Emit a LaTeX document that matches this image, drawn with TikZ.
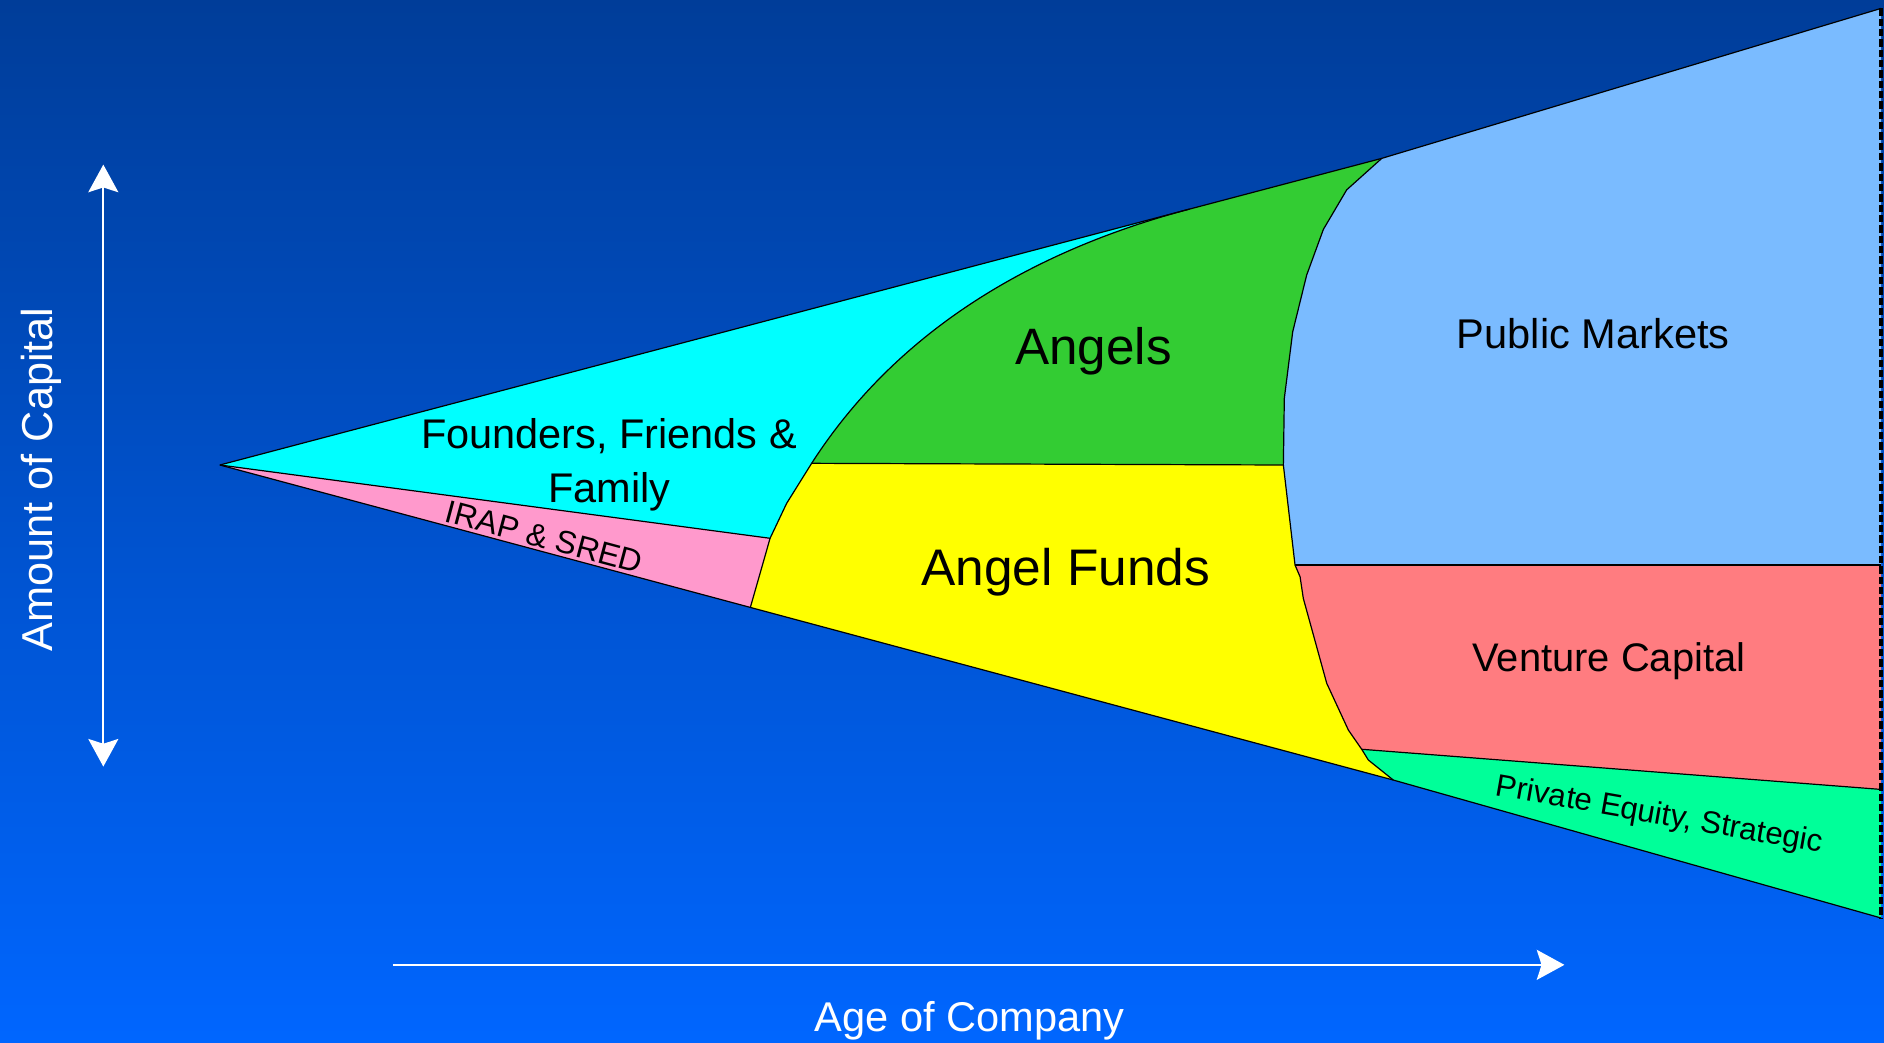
\documentclass[tikz,border=0pt]{standalone}
\usepackage{fontspec}
\setmainfont{Liberation Sans}
\usetikzlibrary{arrows.meta}

\definecolor{bgtop}{RGB}{0,61,153}
\definecolor{bgbot}{RGB}{0,102,255}
\definecolor{founders}{RGB}{0,255,255}
\definecolor{irap}{RGB}{255,153,204}
\definecolor{angels}{RGB}{51,204,51}
\definecolor{angelfunds}{RGB}{255,255,0}
\definecolor{public}{RGB}{122,187,255}
\definecolor{venture}{RGB}{255,124,128}
\definecolor{privateeq}{RGB}{0,255,153}

\begin{document}
\begin{tikzpicture}[x=0.5pt,y=-0.5pt,
  edge/.style={draw=black, line width=0.5pt, line join=round},
  lbl/.style={inner sep=0pt, text=black},
  axisline/.style={draw=white, fill=white, line width=0.7pt,
    >={Stealth[length=11.5pt, width=12.5pt, inset=2pt]}},
  axislabel/.style={inner sep=0pt, text=white, font=\fontsize{18}{21}\selectfont}]

% background
\useasboundingbox (0,0) rectangle (1568,868);
\fill[top color=bgtop, bottom color=bgbot] (0,0) rectangle (1568,868);

% key points of the funnel
\coordinate (A)  at (183,387);
\coordinate (T1) at (1150,131.8);
\coordinate (TR) at (1565.5,7);
\coordinate (BR) at (1565.5,764);
\coordinate (K)  at (1159.6,649.2);
\coordinate (G0) at (675.5,385.6);
\coordinate (G1) at (990,174);
\coordinate (C1) at (654.7,418.9);
\coordinate (C2) at (640.9,448);
\coordinate (P2) at (624.5,505.5);
\coordinate (M0) at (1068.1,387);
\coordinate (M1) at (1077.8,470.2);
\coordinate (R1) at (1565.5,470.2);
\coordinate (V1) at (1133.3,623.6);
\coordinate (R2) at (1565.5,657);
% corners of the right-hand boundary polyline
\coordinate (Q1) at (1120.8,158);
\coordinate (Q2) at (1101.4,190.9);
\coordinate (Q3) at (1087.5,228.9);
\coordinate (Q4) at (1075.9,276);
\coordinate (Q5) at (1068.9,331.5);
\coordinate (S1) at (1082,480);
\coordinate (S2) at (1084.7,498);
\coordinate (S3) at (1104.2,568.7);
\coordinate (S4) at (1122.2,607.6);
\coordinate (S5) at (1138.8,632.5);

% region fills
\fill[founders] (A) -- (G1) .. controls (880,203.1) and (755,262) .. (G0) -- (C1) -- (C2) -- cycle;
\fill[irap] (A) -- (C2) -- (P2) -- cycle;
\fill[angels] (G0) .. controls (755,262) and (880,203.1) .. (G1) -- (T1) -- (Q1) -- (Q2) -- (Q3) -- (Q4) -- (Q5) -- (M0) -- cycle;
\fill[angelfunds] (G0) -- (M0) -- (M1) -- (S1) -- (S2) -- (S3) -- (S4) -- (V1) -- (S5) -- (K) -- (P2) -- (C2) -- (C1) -- cycle;
\fill[public] (T1) -- (TR) -- (R1) -- (M1) -- (M0) -- (Q5) -- (Q4) -- (Q3) -- (Q2) -- (Q1) -- cycle;
\fill[venture] (M1) -- (R1) -- (R2) -- (V1) -- (S4) -- (S3) -- (S2) -- (S1) -- cycle;
\fill[privateeq] (V1) -- (R2) -- (BR) -- (K) -- (S5) -- cycle;

% outlines
\draw[edge] (A) -- (T1) -- (TR);
\draw[edge] (A) -- (K) -- (BR);
\draw[edge] (A) -- (C2);
\draw[edge] (G0) -- (C1) -- (C2) -- (P2);
\draw[edge] (G0) .. controls (755,262) and (880,203.1) .. (G1);
\draw[edge] (G0) -- (M0);
\draw[edge] (T1) -- (Q1) -- (Q2) -- (Q3) -- (Q4) -- (Q5) -- (M0) -- (M1) -- (S1) -- (S2) -- (S3) -- (S4) -- (V1) -- (S5) -- (K);
\draw[edge] (M1) -- (R1);
\draw[edge] (V1) -- (R2);
\draw[black, line width=1.6pt, dash pattern=on 3pt off 1.3pt] (TR) -- (BR);

% region labels
\node[lbl, anchor=base, font=\fontsize{17.25}{21}\selectfont] (ff1) at (507,373) {Founders, Friends \&};
\node[lbl, anchor=base, font=\fontsize{17.25}{21}\selectfont] (ff2) at (507,418) {Family};
\node[lbl, rotate=-15, font=\fontsize{13.3}{16}\selectfont] (irapl) at (453,447) {IRAP \& SRED};
\node[lbl, anchor=base, font=\fontsize{21.3}{25}\selectfont] (angl) at (910,303.5) {Angels};
\node[lbl, anchor=base, font=\fontsize{21.4}{25}\selectfont] (afl) at (887,487.5) {Angel Funds};
\node[lbl, anchor=base, font=\fontsize{17.3}{21}\selectfont] (pml) at (1326,290) {Public Markets};
\node[lbl, anchor=base, font=\fontsize{16.6}{20}\selectfont] (vcl) at (1339,559) {Venture Capital};
\node[lbl, rotate=-10, font=\fontsize{13}{16}\selectfont] (pel) at (1381,679) {Private Equity, Strategic};

% axes
\coordinate (vtop) at (86,137);
\coordinate (vbot) at (86,638);
\coordinate (hleft) at (327,803);
\coordinate (hright) at (1302,803);
\draw[axisline, <->] (vbot) -- (vtop);
\draw[axisline, ->] (hleft) -- (hright);
\node[axislabel, rotate=90, anchor=base] (capl) at (44,399) {Amount of Capital};
\node[axislabel, anchor=base, font=\fontsize{17.3}{21}\selectfont] (agel) at (807,858.6) {Age of Company};
\end{tikzpicture}
\end{document}
